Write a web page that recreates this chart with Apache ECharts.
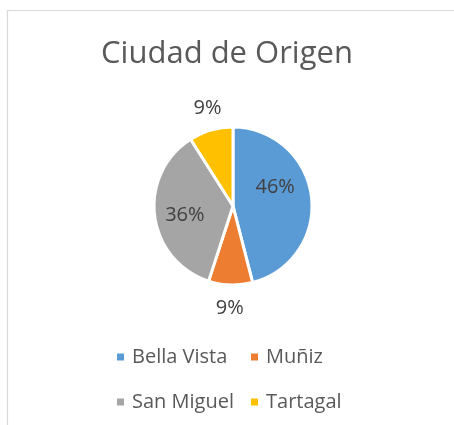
<!DOCTYPE html>
<html>
<head>
<meta charset="utf-8">
<script src="https://cdn.jsdelivr.net/npm/echarts@6/dist/echarts.min.js"></script>
<style>
html,body{margin:0;padding:0;background:#fff;}
#chart{width:454px;height:425px;}
</style>
</head>
<body>
<div id="chart"></div>
<script>
const titleText = 'Ciudad de Origen';
const categories = ['Bella Vista', 'Muñiz', 'San Miguel', 'Tartagal'];
const values = [46, 9, 36, 9];
const colors = ['#5B9BD5', '#ED7D31', '#A5A5A5', '#FFC000'];
const labelPlacement = ['inside', 'outside', 'inside', 'outside'];

const FONT = '"Open Sans", sans-serif';
const chart = echarts.init(document.getElementById('chart'), null, {renderer: 'canvas'});

const data = categories.map((name, i) => ({
  name: name,
  value: values[i],
  itemStyle: {color: colors[i]},
  label: {position: labelPlacement[i]}
}));

const legendText = {fontFamily: FONT, fontSize: 20, color: '#595959', lineHeight: 24, padding: [0, 0, 0, 2]};

chart.setOption({
  animation: false,
  backgroundColor: '#ffffff',
  graphic: [{
    type: 'rect',
    shape: {x: 7.5, y: 10.5, width: 480, height: 440},
    style: {fill: 'none', stroke: '#d9d9d9', lineWidth: 1.2},
    silent: true
  }],
  title: {
    text: titleText,
    left: 'center',
    top: 34,
    textStyle: {fontFamily: FONT, fontSize: 31, fontWeight: 'normal', color: '#595959'}
  },
  legend: [{
    orient: 'vertical',
    left: 110,
    top: 340,
    itemWidth: 9,
    itemHeight: 9,
    itemGap: 21,
    icon: 'rect',
    data: [categories[0], categories[2]],
    textStyle: legendText
  }, {
    orient: 'vertical',
    left: 244,
    top: 340,
    itemWidth: 9,
    itemHeight: 9,
    itemGap: 21,
    icon: 'rect',
    data: [categories[1], categories[3]],
    textStyle: legendText
  }],
  series: [{
    type: 'pie',
    center: [233, 206],
    radius: [0, 79],
    startAngle: 90,
    clockwise: true,
    avoidLabelOverlap: false,
    itemStyle: {borderColor: '#ffffff', borderWidth: 3},
    label: {
      show: true,
      formatter: '{d}%',
      fontFamily: FONT,
      fontSize: 20,
      color: '#404040',
      distanceToLabelLine: -14
    },
    labelLine: {show: false, length: 23, length2: 0},
    labelLayout: function (p) {
      if (p.dataIndex === 0) return {dy: -13};
      if (p.dataIndex === 2) return {dx: -6, dy: 4};
      if (p.dataIndex === 3) return {dx: 3};
      return {};
    },
    emphasis: {disabled: true},
    data: data
  }]
});
</script>
</body>
</html>
